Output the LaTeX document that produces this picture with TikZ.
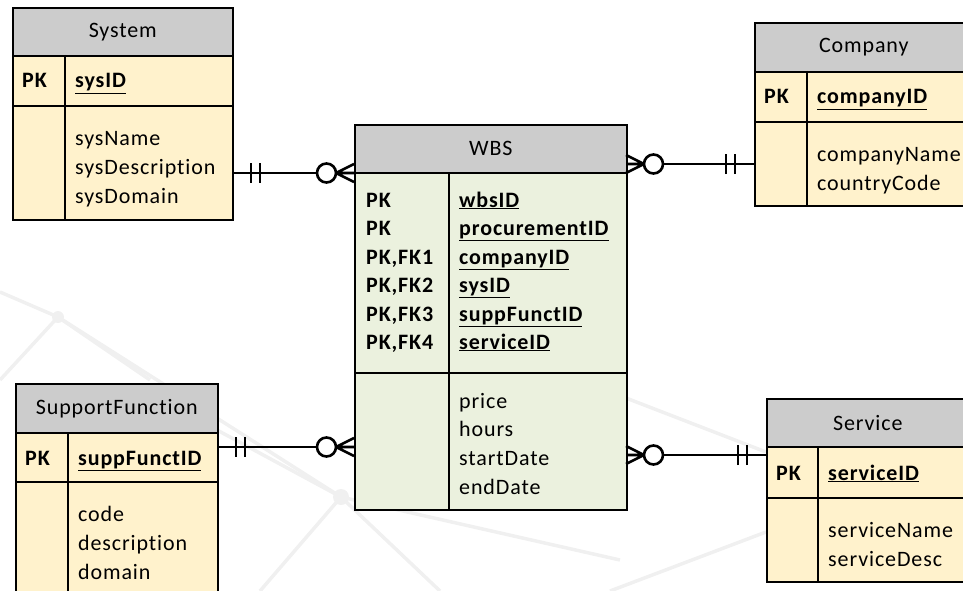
\documentclass[tikz,border=0pt]{standalone}
\usepackage{fontspec}
\setmainfont{Carlito}[LetterSpace=4, Ligatures={NoCommon}]
\usepackage{xcolor}
\usetikzlibrary{positioning}
\definecolor{hdrgray}{RGB}{204,204,204}
\definecolor{bodygold}{RGB}{255,242,204}
\definecolor{bodygreen}{RGB}{235,241,222}
\definecolor{wmgray}{RGB}{240,240,240}

\begin{document}
\begin{tikzpicture}[x=1pt, y=-1pt, every node/.style={font=\fontsize{22}{26}\selectfont},
    hdr/.style={draw, line width=1.6pt, fill=hdrgray, anchor=north west, inner sep=0pt},
    goldbox/.style={draw, line width=1.6pt, fill=bodygold, anchor=north west, inner sep=0pt},
    wbsbox/.style={draw, line width=1.6pt, fill=bodygreen, anchor=north west, inner sep=0pt},
    pk/.style={font=\fontsize{22}{26}\selectfont\bfseries, anchor=base west, inner sep=0pt},
    attr/.style={anchor=base west, inner sep=0pt},
    tbl/.style={line width=1.6pt},
    conn/.style={line width=2.6pt},
    wm/.style={line width=3.5pt, wmgray},
    onemark/.pic={\draw[conn] (19,-10) -- (19,10) (28,-10) -- (28,10);},
    manymark/.pic={\draw[conn] (0,-9) -- (18,0) -- (0,9) (0,0) -- (18,0);
        \draw[conn, fill=white] (27.5,0) circle (9.5);}]
    \useasboundingbox (0,0) rectangle (963,591);
    \clip (0,0) rectangle (963,591);
    % Background network
    \draw[wm] (0,292) -- (58,317) -- (0,380);
    \draw[wm] (58,317) -- (150,380);
    \draw[wm] (58,317) -- (341,497);
    \draw[wm] (217,430) -- (341,497) -- (260,591);
    \draw[wm] (341,497) -- (440,591);
    \draw[wm] (341,497) -- (620,560);
    \draw[wm] (626,398) -- (766,452);
    \draw[wm] (766,532) -- (610,591);
    \fill[wmgray] (58,317) circle (6) (341,497) circle (8);
    % System
    \node[hdr, minimum width=220, minimum height=48] (sysH) at (12,7) {System};
    \node[goldbox, minimum width=220, minimum height=50] (sysK) at (12,55) {};
    \node[goldbox, minimum width=220, minimum height=114] (sysA) at (12,105) {};
    \draw[tbl] (65,55) -- (65,219);
    \node[pk] (sysPK) at (22,88) {PK};
    \node[pk] (sysID) at (75,88) {\underline{sysID}};
    \node[attr] (sysName) at (75,145) {sysName};
    \node[attr] (sysDesc) at (75,174) {sysDescription};
    \node[attr] (sysDom) at (75,203) {sysDomain};
    % Company
    \node[hdr, minimum width=218, minimum height=49] (cmpH) at (754,22) {Company};
    \node[goldbox, minimum width=218, minimum height=50] (cmpK) at (754,71) {};
    \node[goldbox, minimum width=218, minimum height=84] (cmpA) at (754,121) {};
    \draw[tbl] (807,71) -- (807,205);
    \node[pk] (cmpPK) at (764,104) {PK};
    \node[pk] (cmpID) at (817,104) {\underline{companyID}};
    \node[attr] (cmpName) at (817,161) {companyName};
    \node[attr] (cmpCode) at (817,190) {countryCode};
    % WBS
    \node[hdr, minimum width=272, minimum height=48] (wbsH) at (354,124) {WBS};
    \node[wbsbox, minimum width=272, minimum height=200] (wbsK) at (354,172) {};
    \node[wbsbox, minimum width=272, minimum height=137] (wbsA) at (354,372) {};
    \draw[tbl] (449,172) -- (449,509);
    \node[pk] (wbsPK1) at (366,207) {PK};
    \node[pk] (wbsPK2) at (366,235) {PK};
    \node[pk] (wbsPK3) at (366,264) {PK,FK1};
    \node[pk] (wbsPK4) at (366,292) {PK,FK2};
    \node[pk] (wbsPK5) at (366,321) {PK,FK3};
    \node[pk] (wbsPK6) at (366,349) {PK,FK4};
    \node[pk] (wbsID) at (459,207) {\underline{wbsID}};
    \node[pk] (wbsProc) at (459,235) {\underline{procurementID}};
    \node[pk] (wbsCmp) at (459,264) {\underline{companyID}};
    \node[pk] (wbsSys) at (459,292) {\underline{sysID}};
    \node[pk] (wbsSup) at (459,321) {\underline{suppFunctID}};
    \node[pk] (wbsSrv) at (459,349) {\underline{serviceID}};
    \node[attr] (wbsPrice) at (459,408) {price};
    \node[attr] (wbsHours) at (459,436) {hours};
    \node[attr] (wbsStart) at (459,465) {startDate};
    \node[attr] (wbsEnd) at (459,494) {endDate};
    % SupportFunction
    \node[hdr, minimum width=202, minimum height=49] (supH) at (15,383) {SupportFunction};
    \node[goldbox, minimum width=202, minimum height=49] (supK) at (15,432) {};
    \node[goldbox, minimum width=202, minimum height=120] (supA) at (15,481) {};
    \draw[tbl] (68,432) -- (68,601);
    \node[pk] (supPK) at (25,465) {PK};
    \node[pk] (supID) at (78,465) {\underline{suppFunctID}};
    \node[attr] (supCode) at (78,521) {code};
    \node[attr] (supDesc) at (78,550) {description};
    \node[attr] (supDom) at (78,579) {domain};
    % Service
    \node[hdr, minimum width=202, minimum height=48] (srvH) at (766,398) {Service};
    \node[goldbox, minimum width=202, minimum height=51] (srvK) at (766,446) {};
    \node[goldbox, minimum width=202, minimum height=84] (srvA) at (766,497) {};
    \draw[tbl] (818,446) -- (818,581);
    \node[pk] (srvPK) at (776,480) {PK};
    \node[pk] (srvID) at (828,480) {\underline{serviceID}};
    \node[attr] (srvName) at (828,537) {serviceName};
    \node[attr] (srvDesc) at (828,566) {serviceDesc};
    % Relationships
    \coordinate (sysR) at (232,173);
    \coordinate (wbsL1) at (354,173);
    \coordinate (cmpL) at (754,164);
    \coordinate (wbsR1) at (626,164);
    \coordinate (supR) at (217,447);
    \coordinate (wbsL2) at (354,447);
    \coordinate (srvL) at (766,455);
    \coordinate (wbsR2) at (626,455);
    \draw[conn] (sysR) -- (wbsL1);
    \draw[conn] (wbsR1) -- (cmpL);
    \draw[conn] (supR) -- (wbsL2);
    \draw[conn] (wbsR2) -- (srvL);
    \pic at (sysR) {onemark};
    \pic[rotate=180] at (wbsL1) {manymark};
    \pic[rotate=180] at (cmpL) {onemark};
    \pic at (wbsR1) {manymark};
    \pic at (supR) {onemark};
    \pic[rotate=180] at (wbsL2) {manymark};
    \pic[rotate=180] at (srvL) {onemark};
    \pic at (wbsR2) {manymark};
\end{tikzpicture}
\end{document}
